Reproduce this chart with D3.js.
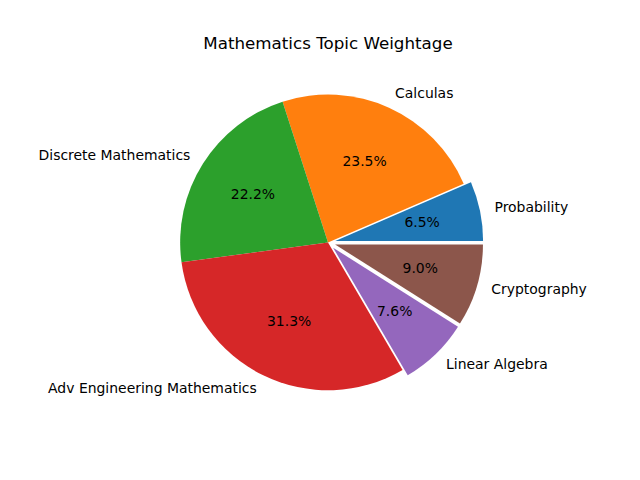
<!DOCTYPE html>
<html><head><meta charset="utf-8">
<script src="https://cdn.jsdelivr.net/npm/d3@7"></script>
<style>body{margin:0;background:#fff}svg{display:block}text{font-family:"DejaVu Sans",sans-serif}</style>
</head><body>
<svg id="c" width="640" height="480"></svg>
<script>
const categories = ["Probability","Calculas","Discrete Mathematics","Adv Engineering Mathematics","Linear Algebra","Cryptography"];
const values = [6.5, 23.5, 22.2, 31.3, 7.6, 9.0];
const explode = [0.05, 0, 0, 0, 0.05, 0.05];
const colors = ["#1f77b4","#ff7f0e","#2ca02c","#d62728","#9467bd","#8c564b"];
const title = "Mathematics Topic Weightage";

const svg = d3.select("#c");
const cx = 328, cy = 242.4, R = 147.84;
const total = d3.sum(values);
const pie = d3.pie().sort(null).startAngle(Math.PI/2).endAngle(Math.PI/2 - 2*Math.PI);
const arcs = pie(values);
const arc = d3.arc().innerRadius(0).outerRadius(R);
const g = svg.append("g").attr("transform", `translate(${cx},${cy})`);

arcs.forEach((a, i) => {
  const mid = (a.startAngle + a.endAngle) / 2;
  const off = explode[i] * R;
  const ox = Math.sin(mid) * off, oy = -Math.cos(mid) * off;
  const wg = g.append("g").attr("transform", `translate(${ox},${oy})`);
  wg.append("path").attr("d", arc({startAngle: Math.min(a.startAngle,a.endAngle), endAngle: Math.max(a.startAngle,a.endAngle)})).attr("fill", colors[i]);
  const lx = Math.sin(mid) * R * 1.1, ly = -Math.cos(mid) * R * 1.1;
  wg.append("text").attr("x", lx).attr("y", ly - 1)
    .attr("text-anchor", lx > 0 ? "start" : "end")
    .attr("dominant-baseline", "central")
    .attr("font-size", "13.95px").attr("fill", "#000").text(categories[i]);
  const px = Math.sin(mid) * R * 0.6, py = -Math.cos(mid) * R * 0.6;
  wg.append("text").attr("x", px).attr("y", py - 1)
    .attr("text-anchor", "middle").attr("dominant-baseline", "central")
    .attr("font-size", "13.95px").attr("fill", "#000")
    .text((values[i] / total * 100).toFixed(1) + "%");
});

svg.append("text").attr("x", 328).attr("y", 48.5).attr("text-anchor", "middle")
  .attr("font-size", "16.7px").attr("fill", "#000").text(title);
</script>
</body></html>
